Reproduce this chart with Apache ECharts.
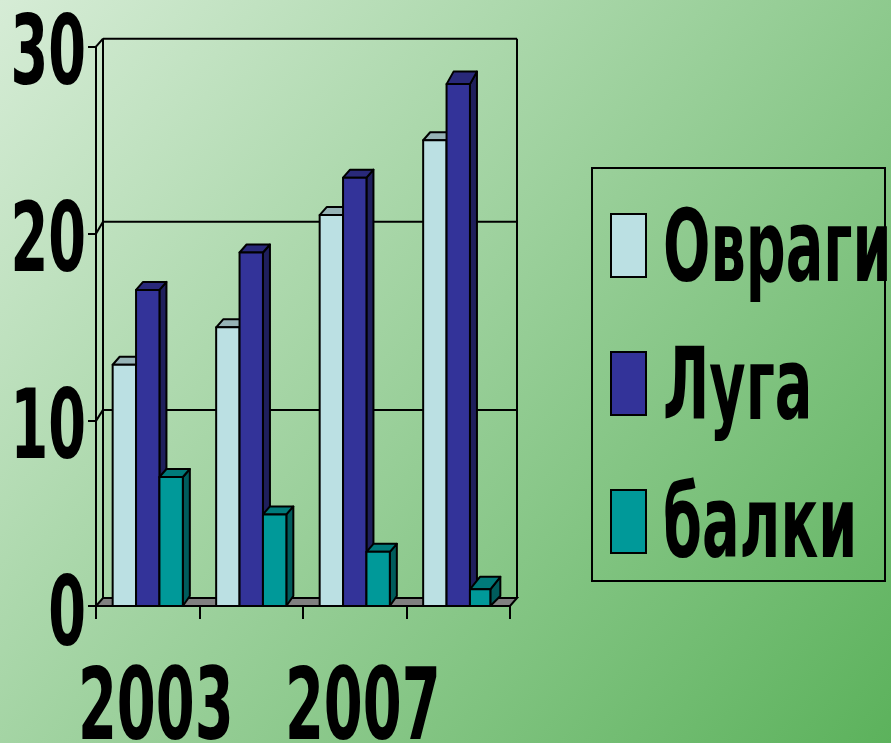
<!DOCTYPE html>
<html>
<head>
<meta charset="utf-8">
<style>
  html, body { margin: 0; padding: 0; }
  #chart { width: 891px; height: 743px; }
</style>
<script src="https://cdn.jsdelivr.net/npm/echarts@6/dist/echarts.min.js"></script>
</head>
<body>
<div id="chart"></div>
<script>
// значения с картинки
var categories = ["2003", "2005", "2007", "2009"];
var ovragi = [13, 15, 21, 25];
var luga = [17, 19, 23, 28];
var balki = [7, 5, 3, 1];
var seriesNames = ["Овраги", "Луга", "балки"];
var yTicks = [0, 10, 20, 30];

var FONT = '"DejaVu Sans", sans-serif';
var LINE = "#000";
var DEPTH_X = 7;
var DEPTH_Y = 8;
var FLOOR_VALUE = 0.107; // пол диаграммы чуть выше нуля шкалы
// подъём задней стенки на линиях сетки неравномерный
var wallLift = { 0: 8, 10: 11, 20: 12, 30: 8 };
var palette = [
  { front: "#BBE0E3", top: "#96B3B6", side: "#708688" },
  { front: "#333399", top: "#29297A", side: "#1F1F5C" },
  { front: "#009999", top: "#007A7A", side: "#005C5C" },
];

var myChart = echarts.init(document.getElementById("chart"));

function squeezedText(text, x, y, size, scaleX, align) {
  return {
    type: "text",
    x: x,
    y: y,
    scaleX: scaleX,
    style: {
      text: text,
      fill: "#000",
      font: "bold " + size + "px " + FONT,
      textAlign: align,
      textVerticalAlign: "middle",
    },
  };
}

function seg(x1, y1, x2, y2) {
  return {
    type: "line",
    shape: { x1: x1, y1: y1, x2: x2, y2: y2 },
    style: { stroke: LINE, lineWidth: 2 },
  };
}

// стенки и пол
function renderWalls(params, api) {
  var floor = api.coord([0, FLOOR_VALUE]);
  var bandWidth = api.size([1, 0])[0];
  var left = floor[0] - bandWidth / 2;
  var right = left + bandWidth * categories.length;
  var y0 = floor[1];
  var children = [];
  children.push({
    type: "polygon",
    shape: {
      points: [
        [left, y0],
        [left + DEPTH_X, y0 - DEPTH_Y],
        [right + DEPTH_X, y0 - DEPTH_Y],
        [right, y0],
      ],
    },
    style: { fill: "#808080", stroke: LINE, lineWidth: 2 },
  });
  var topY = api.coord([0, 30])[1] - wallLift[30];
  children.push(seg(left + DEPTH_X, topY, left + DEPTH_X, y0 - DEPTH_Y));
  children.push(seg(right + DEPTH_X, topY, right + DEPTH_X, y0 - DEPTH_Y));
  yTicks.forEach(function (v) {
    if (v === 0) return;
    var y = api.coord([0, v])[1];
    children.push(seg(left, y, left + DEPTH_X, y - wallLift[v]));
    children.push(seg(left + DEPTH_X, y - wallLift[v], right + DEPTH_X, y - wallLift[v]));
  });
  return { type: "group", children: children };
}

// столбик с верхней и боковой гранью
function renderBar(index) {
  return function (params, api) {
    var c = palette[index];
    var cat = api.value(0);
    var pos = api.coord([cat, api.value(1)]);
    var bottom = api.coord([cat, FLOOR_VALUE])[1];
    var bw = api.size([1, 0])[0] * 0.226;
    var x = pos[0] + (index - 1.5) * bw;
    var y = pos[1];
    // в последней группе у синего и бирюзового столбика верх глубже
    var last = cat === categories.length - 1 && index > 0;
    var dy = last ? 12.5 : DEPTH_Y;
    var dx = last && index === 2 ? 10 : DEPTH_X;
    var w = last && index === 2 ? bw - 3 : bw;
    var line = { stroke: LINE, lineWidth: 2, lineJoin: "round" };
    return {
      type: "group",
      children: [
        {
          type: "polygon",
          shape: { points: [[x + w, y], [x + w + dx, y - dy], [x + w + dx, bottom - DEPTH_Y - 2], [x + w, bottom]] },
          style: Object.assign({ fill: c.side }, line),
        },
        {
          type: "polygon",
          shape: { points: [[x, y], [x + dx, y - dy], [x + w + dx, y - dy], [x + w, y]] },
          style: Object.assign({ fill: c.top }, line),
        },
        {
          type: "rect",
          shape: { x: x, y: y, width: w, height: bottom - y },
          style: Object.assign({ fill: c.front }, line),
        },
      ],
    };
  };
}

// подписи осей сжаты по ширине, обычный axisLabel так не умеет
function renderLabels(params, api) {
  var children = [];
  yTicks.forEach(function (v) {
    var p = api.coord([0, v]);
    children.push(squeezedText(String(v), 86, p[1] + 12.5, 96, 0.565, "right"));
  });
  categories.forEach(function (name, i) {
    if (i % 2 !== 0) return;
    var p = api.coord([i, 0]);
    children.push(squeezedText(name, p[0] + 8, 713, 99, 0.565, "center"));
  });
  return { type: "group", children: children };
}

function barSeries(values, index) {
  return {
    name: seriesNames[index],
    type: "custom",
    renderItem: renderBar(index),
    encode: { x: 0, y: 1 },
    data: values.map(function (v, i) {
      return [i, v];
    }),
    z: 3,
  };
}

// легенда
var legendChildren = [
  {
    type: "rect",
    shape: { x: 592, y: 168, width: 293, height: 413 },
    style: { fill: "transparent", stroke: LINE, lineWidth: 2 },
  },
];
seriesNames.forEach(function (name, i) {
  var top = 214 + i * 138;
  legendChildren.push({
    type: "rect",
    shape: { x: 611, y: top, width: 35, height: 63 },
    style: { fill: palette[i].front, stroke: LINE, lineWidth: 2 },
  });
  legendChildren.push(squeezedText(name, 663, top + 41, 100, 0.558, "left"));
});

var option = {
  animation: false,
  backgroundColor: {
    type: "linear",
    x: 0,
    y: 0,
    x2: 1,
    y2: 1,
    colorStops: [
      { offset: 0, color: "#D6ECD6" },
      { offset: 1, color: "#5CB25C" },
    ],
  },
  grid: { left: 96, right: 381, top: 46.7, bottom: 135 },
  xAxis: {
    type: "category",
    data: categories,
    offset: -2,
    axisLine: { onZero: false, lineStyle: { color: LINE, width: 2 } },
    axisTick: { show: true, length: 13, lineStyle: { color: LINE, width: 2 } },
    axisLabel: { show: false },
    splitLine: { show: false },
  },
  yAxis: {
    type: "value",
    min: 0,
    max: 30,
    interval: 10,
    axisLine: { show: true, lineStyle: { color: LINE, width: 2 } },
    axisTick: {
      show: true,
      length: 8,
      customValues: [FLOOR_VALUE, 10, 20, 30],
      lineStyle: { color: LINE, width: 2 },
    },
    axisLabel: { show: false },
    splitLine: { show: false },
  },
  graphic: { elements: [{ type: "group", children: legendChildren }] },
  series: [
    { type: "custom", renderItem: renderWalls, data: [[0, 0]], encode: { x: 0, y: 1 }, z: 1, silent: true },
    barSeries(ovragi, 0),
    barSeries(luga, 1),
    barSeries(balki, 2),
    { type: "custom", renderItem: renderLabels, data: [[0, 0]], encode: { x: 0, y: 1 }, z: 4, silent: true },
  ],
};

myChart.setOption(option);
</script>
</body>
</html>
